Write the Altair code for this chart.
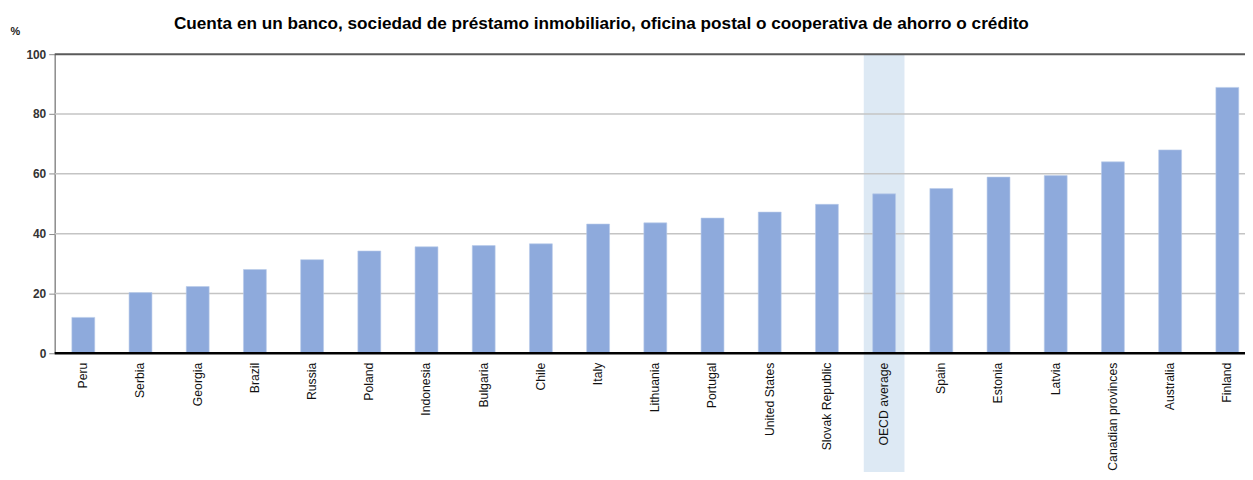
import altair as alt
import pandas as pd

countries = ["Peru", "Serbia", "Georgia", "Brazil", "Russia", "Poland", "Indonesia",
             "Bulgaria", "Chile", "Italy", "Lithuania", "Portugal", "United States",
             "Slovak Republic", "OECD average", "Spain", "Estonia", "Latvia",
             "Canadian provinces", "Australia", "Finland"]
values = [12.0, 20.3, 22.3, 28.0, 31.3, 34.2, 35.6, 36.0, 36.6, 43.2, 43.6, 45.2,
          47.2, 49.8, 53.3, 55.1, 58.9, 59.4, 64.0, 68.0, 88.9]
highlight = ["OECD average"]
grid_values = [20, 40, 60, 80]
tick_values = [0, 20, 40, 60, 80, 100]
title_text = "Cuenta en un banco, sociedad de préstamo inmobiliario, oficina postal o cooperativa de ahorro o crédito"

W, H = 1198, 301
FONT = "Liberation Sans"

df = pd.DataFrame({"country": countries, "value": values})

xscale = alt.Scale(domain=countries, range=[0, 1209], paddingInner=0.6, paddingOuter=0.3)
xaxis = alt.Axis(title=None, labelAngle=-90, labelAlign="right", labelBaseline="middle",
                 labelPadding=9, ticks=False, domain=False, labelFont=FONT,
                 labelFontSize=12.3, labelColor="#111", zindex=2)
yscale = alt.Scale(domain=[0, 100], nice=False)
yaxis = alt.Axis(values=tick_values, grid=False, domainColor="#8a8a8a", domainWidth=1.5,
                 tickColor="#8a8a8a", tickSize=6, labelFont=FONT, labelFontSize=12,
                 labelFontWeight="bold", labelColor="#333", labelPadding=3,
                 title="%", titleAngle=0, titleX=-45, titleY=-23, titleAlign="left",
                 titleBaseline="middle", titleFont=FONT, titleFontSize=11,
                 titleFontWeight="bold", titleColor="#222")

hl = alt.Chart(pd.DataFrame({"country": highlight})).mark_bar(
    color="#dde9f4", width=alt.RelativeBandSize(1.78)
).encode(
    x=alt.X("country:N", scale=xscale, axis=xaxis),
    y=alt.value(0), y2=alt.value(H + 130)
)

grid = alt.Chart(pd.DataFrame({"v": grid_values})).mark_rule(
    color="#c4c4c4", strokeWidth=1.5
).encode(y=alt.Y("v:Q", scale=yscale, axis=yaxis))

bars = alt.Chart(df).mark_bar(color="#8eaadc", stroke="#b8cbe9", strokeWidth=0.6).encode(
    x=alt.X("country:N", scale=xscale, axis=xaxis),
    y=alt.Y("value:Q", scale=yscale, axis=yaxis)
)

top = alt.Chart(pd.DataFrame({"v": [100]})).mark_rule(color="#5a5a5a", strokeWidth=2).encode(
    y=alt.Y("v:Q", scale=yscale, axis=yaxis))
zero = alt.Chart(pd.DataFrame({"v": [0]})).mark_rule(color="#000", strokeWidth=2.5).encode(
    y=alt.Y("v:Q", scale=yscale, axis=yaxis))

chart = alt.layer(hl, grid, bars, top, zero).properties(
    width=W, height=H,
    title=alt.TitleParams(title_text, font=FONT, fontSize=17.3, fontWeight="bold",
                          color="#000", anchor="start", dx=165, offset=-7),
    autosize=alt.AutoSizeParams(type="none"),
    padding={"left": 47, "top": 45, "right": 0, "bottom": 118}
).configure_view(stroke=None)

chart.save("out.html", embed_options={"renderer": "svg", "actions": False})
